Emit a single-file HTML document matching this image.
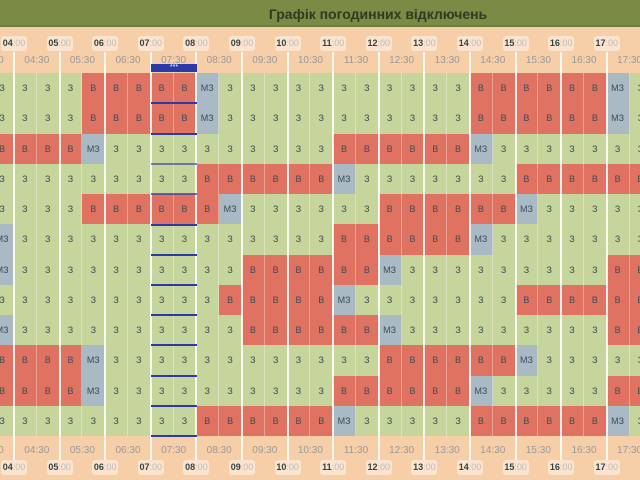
<!DOCTYPE html>
<html><head><meta charset="utf-8"><style>
*{margin:0;padding:0;box-sizing:border-box}
body{width:640px;height:480px;overflow:hidden;position:relative;background:#f6cea8;font-family:"Liberation Sans","DejaVu Sans",sans-serif}
#title{position:absolute;left:0;top:0;width:640px;height:27px;background:#7b8b45;border-bottom:2px solid #6d7d3c}
#title span{position:absolute;left:378px;top:6px;transform:translateX(-50%);font-weight:bold;font-size:14px;color:#2f3a20;white-space:nowrap}
.hl{position:absolute;width:26px;height:15px;margin-left:-13px;background:rgba(255,255,255,.45);border-radius:3px;font-size:9px;line-height:15px;text-align:center;color:#344;font-weight:bold}
.hl s{text-decoration:none;font-weight:normal;color:#bbb}
.hh{position:absolute;width:40px;margin-left:-20px;font-size:10px;text-align:center;color:#999}
.vl{position:absolute;width:2px;margin-left:-1px;background:#fff;opacity:.85}
#grid{position:absolute;left:-8.8px;top:73px;display:grid;grid-template-columns:repeat(29,22.8px);grid-auto-rows:30.25px}
#grid i{font-style:normal;display:flex;align-items:center;justify-content:center;font-size:9px;color:#3c4c58;border-right:1px solid rgba(255,255,255,.35)}
.g{background:#c6d59b}.r{background:#e07261}.b{background:#a9bac5}
.bl{position:absolute;left:151px;width:46px;height:2px;background:#2b3aa8}
#now{position:absolute;left:151px;top:64px;width:46px;height:8px;background:#2b3aa8;color:#fff;font-size:7px;line-height:8px;text-align:center}
</style></head><body>
<div id="title"><span>Графік погодинних відключень</span></div>

<div class="hl" style="left:14px;top:36px">04<s>:00</s></div>
<div class="hl" style="left:59.6px;top:36px">05<s>:00</s></div>
<div class="hl" style="left:105.2px;top:36px">06<s>:00</s></div>
<div class="hl" style="left:150.8px;top:36px">07<s>:00</s></div>
<div class="hl" style="left:196.4px;top:36px">08<s>:00</s></div>
<div class="hl" style="left:242px;top:36px">09<s>:00</s></div>
<div class="hl" style="left:287.6px;top:36px">10<s>:00</s></div>
<div class="hl" style="left:333.2px;top:36px">11<s>:00</s></div>
<div class="hl" style="left:378.8px;top:36px">12<s>:00</s></div>
<div class="hl" style="left:424.4px;top:36px">13<s>:00</s></div>
<div class="hl" style="left:470px;top:36px">14<s>:00</s></div>
<div class="hl" style="left:515.6px;top:36px">15<s>:00</s></div>
<div class="hl" style="left:561.2px;top:36px">16<s>:00</s></div>
<div class="hl" style="left:606.8px;top:36px">17<s>:00</s></div>

<div class="hh" style="left:-8.8px;top:55px">03:30</div>
<div class="hh" style="left:36.8px;top:55px">04:30</div>
<div class="hh" style="left:82.4px;top:55px">05:30</div>
<div class="hh" style="left:128px;top:55px">06:30</div>
<div class="hh" style="left:173.6px;top:55px">07:30</div>
<div class="hh" style="left:219.2px;top:55px">08:30</div>
<div class="hh" style="left:264.8px;top:55px">09:30</div>
<div class="hh" style="left:310.4px;top:55px">10:30</div>
<div class="hh" style="left:356px;top:55px">11:30</div>
<div class="hh" style="left:401.6px;top:55px">12:30</div>
<div class="hh" style="left:447.2px;top:55px">13:30</div>
<div class="hh" style="left:492.8px;top:55px">14:30</div>
<div class="hh" style="left:538.4px;top:55px">15:30</div>
<div class="hh" style="left:584px;top:55px">16:30</div>
<div class="hh" style="left:629.6px;top:55px">17:30</div>

<div id="grid">
<i class=g>З</i><i class=g>З</i><i class=g>З</i><i class=g>З</i><i class=r>В</i><i class=r>В</i><i class=r>В</i><i class=r>В</i><i class=r>В</i><i class=b>МЗ</i><i class=g>З</i><i class=g>З</i><i class=g>З</i><i class=g>З</i><i class=g>З</i><i class=g>З</i><i class=g>З</i><i class=g>З</i><i class=g>З</i><i class=g>З</i><i class=g>З</i><i class=r>В</i><i class=r>В</i><i class=r>В</i><i class=r>В</i><i class=r>В</i><i class=r>В</i><i class=b>МЗ</i><i class=g>З</i>
<i class=g>З</i><i class=g>З</i><i class=g>З</i><i class=g>З</i><i class=r>В</i><i class=r>В</i><i class=r>В</i><i class=r>В</i><i class=r>В</i><i class=b>МЗ</i><i class=g>З</i><i class=g>З</i><i class=g>З</i><i class=g>З</i><i class=g>З</i><i class=g>З</i><i class=g>З</i><i class=g>З</i><i class=g>З</i><i class=g>З</i><i class=g>З</i><i class=r>В</i><i class=r>В</i><i class=r>В</i><i class=r>В</i><i class=r>В</i><i class=r>В</i><i class=b>МЗ</i><i class=g>З</i>
<i class=r>В</i><i class=r>В</i><i class=r>В</i><i class=r>В</i><i class=b>МЗ</i><i class=g>З</i><i class=g>З</i><i class=g>З</i><i class=g>З</i><i class=g>З</i><i class=g>З</i><i class=g>З</i><i class=g>З</i><i class=g>З</i><i class=g>З</i><i class=r>В</i><i class=r>В</i><i class=r>В</i><i class=r>В</i><i class=r>В</i><i class=r>В</i><i class=b>МЗ</i><i class=g>З</i><i class=g>З</i><i class=g>З</i><i class=g>З</i><i class=g>З</i><i class=g>З</i><i class=g>З</i>
<i class=g>З</i><i class=g>З</i><i class=g>З</i><i class=g>З</i><i class=g>З</i><i class=g>З</i><i class=g>З</i><i class=g>З</i><i class=g>З</i><i class=r>В</i><i class=r>В</i><i class=r>В</i><i class=r>В</i><i class=r>В</i><i class=r>В</i><i class=b>МЗ</i><i class=g>З</i><i class=g>З</i><i class=g>З</i><i class=g>З</i><i class=g>З</i><i class=g>З</i><i class=g>З</i><i class=r>В</i><i class=r>В</i><i class=r>В</i><i class=r>В</i><i class=r>В</i><i class=r>В</i>
<i class=g>З</i><i class=g>З</i><i class=g>З</i><i class=g>З</i><i class=r>В</i><i class=r>В</i><i class=r>В</i><i class=r>В</i><i class=r>В</i><i class=r>В</i><i class=b>МЗ</i><i class=g>З</i><i class=g>З</i><i class=g>З</i><i class=g>З</i><i class=g>З</i><i class=g>З</i><i class=r>В</i><i class=r>В</i><i class=r>В</i><i class=r>В</i><i class=r>В</i><i class=r>В</i><i class=b>МЗ</i><i class=g>З</i><i class=g>З</i><i class=g>З</i><i class=g>З</i><i class=g>З</i>
<i class=b>МЗ</i><i class=g>З</i><i class=g>З</i><i class=g>З</i><i class=g>З</i><i class=g>З</i><i class=g>З</i><i class=g>З</i><i class=g>З</i><i class=g>З</i><i class=g>З</i><i class=g>З</i><i class=g>З</i><i class=g>З</i><i class=g>З</i><i class=r>В</i><i class=r>В</i><i class=r>В</i><i class=r>В</i><i class=r>В</i><i class=r>В</i><i class=b>МЗ</i><i class=g>З</i><i class=g>З</i><i class=g>З</i><i class=g>З</i><i class=g>З</i><i class=g>З</i><i class=g>З</i>
<i class=b>МЗ</i><i class=g>З</i><i class=g>З</i><i class=g>З</i><i class=g>З</i><i class=g>З</i><i class=g>З</i><i class=g>З</i><i class=g>З</i><i class=g>З</i><i class=g>З</i><i class=r>В</i><i class=r>В</i><i class=r>В</i><i class=r>В</i><i class=r>В</i><i class=r>В</i><i class=b>МЗ</i><i class=g>З</i><i class=g>З</i><i class=g>З</i><i class=g>З</i><i class=g>З</i><i class=g>З</i><i class=g>З</i><i class=g>З</i><i class=g>З</i><i class=r>В</i><i class=r>В</i>
<i class=g>З</i><i class=g>З</i><i class=g>З</i><i class=g>З</i><i class=g>З</i><i class=g>З</i><i class=g>З</i><i class=g>З</i><i class=g>З</i><i class=g>З</i><i class=r>В</i><i class=r>В</i><i class=r>В</i><i class=r>В</i><i class=r>В</i><i class=b>МЗ</i><i class=g>З</i><i class=g>З</i><i class=g>З</i><i class=g>З</i><i class=g>З</i><i class=g>З</i><i class=g>З</i><i class=r>В</i><i class=r>В</i><i class=r>В</i><i class=r>В</i><i class=r>В</i><i class=r>В</i>
<i class=b>МЗ</i><i class=g>З</i><i class=g>З</i><i class=g>З</i><i class=g>З</i><i class=g>З</i><i class=g>З</i><i class=g>З</i><i class=g>З</i><i class=g>З</i><i class=g>З</i><i class=r>В</i><i class=r>В</i><i class=r>В</i><i class=r>В</i><i class=r>В</i><i class=r>В</i><i class=b>МЗ</i><i class=g>З</i><i class=g>З</i><i class=g>З</i><i class=g>З</i><i class=g>З</i><i class=g>З</i><i class=g>З</i><i class=g>З</i><i class=g>З</i><i class=r>В</i><i class=r>В</i>
<i class=r>В</i><i class=r>В</i><i class=r>В</i><i class=r>В</i><i class=b>МЗ</i><i class=g>З</i><i class=g>З</i><i class=g>З</i><i class=g>З</i><i class=g>З</i><i class=g>З</i><i class=g>З</i><i class=g>З</i><i class=g>З</i><i class=g>З</i><i class=g>З</i><i class=g>З</i><i class=r>В</i><i class=r>В</i><i class=r>В</i><i class=r>В</i><i class=r>В</i><i class=r>В</i><i class=b>МЗ</i><i class=g>З</i><i class=g>З</i><i class=g>З</i><i class=g>З</i><i class=g>З</i>
<i class=r>В</i><i class=r>В</i><i class=r>В</i><i class=r>В</i><i class=b>МЗ</i><i class=g>З</i><i class=g>З</i><i class=g>З</i><i class=g>З</i><i class=g>З</i><i class=g>З</i><i class=g>З</i><i class=g>З</i><i class=g>З</i><i class=g>З</i><i class=r>В</i><i class=r>В</i><i class=r>В</i><i class=r>В</i><i class=r>В</i><i class=r>В</i><i class=b>МЗ</i><i class=g>З</i><i class=g>З</i><i class=g>З</i><i class=g>З</i><i class=g>З</i><i class=r>В</i><i class=r>В</i>
<i class=g>З</i><i class=g>З</i><i class=g>З</i><i class=g>З</i><i class=g>З</i><i class=g>З</i><i class=g>З</i><i class=g>З</i><i class=g>З</i><i class=r>В</i><i class=r>В</i><i class=r>В</i><i class=r>В</i><i class=r>В</i><i class=r>В</i><i class=b>МЗ</i><i class=g>З</i><i class=g>З</i><i class=g>З</i><i class=g>З</i><i class=g>З</i><i class=r>В</i><i class=r>В</i><i class=r>В</i><i class=r>В</i><i class=r>В</i><i class=r>В</i><i class=b>МЗ</i><i class=g>З</i>
</div>

<div class="vl" style="left:14px;top:52px;height:408px"></div>
<div class="vl" style="left:59.6px;top:52px;height:408px"></div>
<div class="vl" style="left:105.2px;top:52px;height:408px"></div>
<div class="vl" style="left:150.8px;top:52px;height:408px"></div>
<div class="vl" style="left:196.4px;top:52px;height:408px"></div>
<div class="vl" style="left:242px;top:52px;height:408px"></div>
<div class="vl" style="left:287.6px;top:52px;height:408px"></div>
<div class="vl" style="left:333.2px;top:52px;height:408px"></div>
<div class="vl" style="left:378.8px;top:52px;height:408px"></div>
<div class="vl" style="left:424.4px;top:52px;height:408px"></div>
<div class="vl" style="left:470px;top:52px;height:408px"></div>
<div class="vl" style="left:515.6px;top:52px;height:408px"></div>
<div class="vl" style="left:561.2px;top:52px;height:408px"></div>
<div class="vl" style="left:606.8px;top:52px;height:408px"></div>

<div id="now">***</div>
<div class="bl" style="top:102px"></div>
<div class="bl" style="top:133px"></div>
<div class="bl" style="top:163px;opacity:.6"></div>
<div class="bl" style="top:193px;opacity:.7"></div>
<div class="bl" style="top:224px"></div>
<div class="bl" style="top:254px"></div>
<div class="bl" style="top:284px"></div>
<div class="bl" style="top:314px"></div>
<div class="bl" style="top:344px"></div>
<div class="bl" style="top:375px"></div>
<div class="bl" style="top:405px"></div>
<div class="bl" style="top:435px"></div>

<div class="hh" style="left:-8.8px;top:445px">03:30</div>
<div class="hh" style="left:36.8px;top:445px">04:30</div>
<div class="hh" style="left:82.4px;top:445px">05:30</div>
<div class="hh" style="left:128px;top:445px">06:30</div>
<div class="hh" style="left:173.6px;top:445px">07:30</div>
<div class="hh" style="left:219.2px;top:445px">08:30</div>
<div class="hh" style="left:264.8px;top:445px">09:30</div>
<div class="hh" style="left:310.4px;top:445px">10:30</div>
<div class="hh" style="left:356px;top:445px">11:30</div>
<div class="hh" style="left:401.6px;top:445px">12:30</div>
<div class="hh" style="left:447.2px;top:445px">13:30</div>
<div class="hh" style="left:492.8px;top:445px">14:30</div>
<div class="hh" style="left:538.4px;top:445px">15:30</div>
<div class="hh" style="left:584px;top:445px">16:30</div>
<div class="hh" style="left:629.6px;top:445px">17:30</div>

<div class="hl" style="left:14px;top:460px">04<s>:00</s></div>
<div class="hl" style="left:59.6px;top:460px">05<s>:00</s></div>
<div class="hl" style="left:105.2px;top:460px">06<s>:00</s></div>
<div class="hl" style="left:150.8px;top:460px">07<s>:00</s></div>
<div class="hl" style="left:196.4px;top:460px">08<s>:00</s></div>
<div class="hl" style="left:242px;top:460px">09<s>:00</s></div>
<div class="hl" style="left:287.6px;top:460px">10<s>:00</s></div>
<div class="hl" style="left:333.2px;top:460px">11<s>:00</s></div>
<div class="hl" style="left:378.8px;top:460px">12<s>:00</s></div>
<div class="hl" style="left:424.4px;top:460px">13<s>:00</s></div>
<div class="hl" style="left:470px;top:460px">14<s>:00</s></div>
<div class="hl" style="left:515.6px;top:460px">15<s>:00</s></div>
<div class="hl" style="left:561.2px;top:460px">16<s>:00</s></div>
<div class="hl" style="left:606.8px;top:460px">17<s>:00</s></div>
</body></html>
